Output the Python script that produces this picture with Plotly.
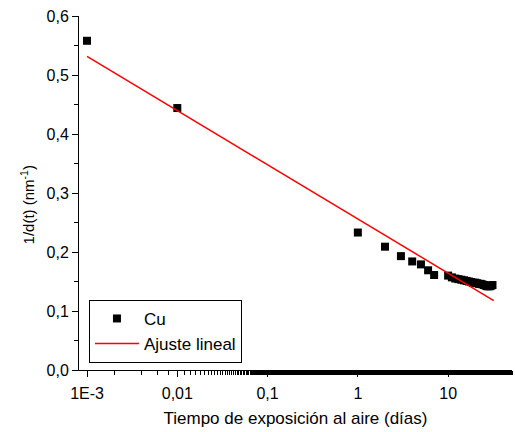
import numpy as np
import plotly.graph_objects as go

# Exposure time (days) and inverse thickness 1/d(t) (nm^-1) for Cu
dias = [0.001, 0.01, 1, 2, 3, 4, 5, 6, 7,
        10, 11, 12, 13, 14, 15, 16, 17, 18, 19, 20,
        21, 22, 23, 24, 25, 26, 27, 28, 29, 30, 31]
inv_d = [0.558, 0.444, 0.233, 0.209, 0.193, 0.184, 0.179, 0.169, 0.161,
         0.160, 0.157, 0.155, 0.154, 0.153, 0.152, 0.151, 0.150, 0.149, 0.148, 0.148,
         0.147, 0.146, 0.146, 0.145, 0.144, 0.143, 0.142, 0.142, 0.142, 0.143, 0.144]

# Linear fit y = a + b*log10(t)
fit_a = 0.256
fit_b = -0.0919
fit_t = [0.001, 32]

x_tickvals = [0.001, 0.01, 0.1, 1, 10]
x_ticktext = ["1E-3", "0,01", "0,1", "1", "10"]
y_tickvals = [0.0, 0.1, 0.2, 0.3, 0.4, 0.5, 0.6]
y_ticktext = ["0,0", "0,1", "0,2", "0,3", "0,4", "0,5", "0,6"]

fit_y = [fit_a + fit_b * np.log10(t) for t in fit_t]

font_family = "Liberation Sans, Arial, sans-serif"

fig = go.Figure()
fig.add_trace(go.Scatter(
    x=dias, y=inv_d, mode="markers", name="Cu",
    marker=dict(symbol="square", size=8, color="black", line=dict(width=0)),
))
fig.add_trace(go.Scatter(
    x=fit_t, y=fit_y, mode="lines", name="Ajuste lineal",
    line=dict(color="red", width=1.5),
))

fig.update_layout(
    width=515, height=432,
    margin=dict(l=79, r=3, t=16, b=62),
    paper_bgcolor="white", plot_bgcolor="white",
    font=dict(family=font_family, size=15, color="black"),
    showlegend=True,
    legend=dict(
        x=0.023, y=0.198, xanchor="left", yanchor="top",
        bordercolor="black", borderwidth=1, bgcolor="white",
        font=dict(family=font_family, size=17, color="black"),
        tracegroupgap=0, itemwidth=44,
    ),
    xaxis=dict(
        type="log", range=[np.log10(0.000815), np.log10(51)],
        tickvals=x_tickvals, ticktext=x_ticktext,
        tickfont=dict(family=font_family, size=16, color="black"),
        ticklabelstandoff=3,
        ticks="outside", ticklen=6, tickwidth=1, tickcolor="black",
        minor=dict(ticks="outside", ticklen=4, tickwidth=1, tickcolor="black", showgrid=False),
        showline=True, linecolor="black", linewidth=1,
        showgrid=False, zeroline=False,
        title=dict(text="Tiempo de exposición al aire (días)", standoff=10,
                   font=dict(family=font_family, size=17, color="black")),
    ),
    yaxis=dict(
        range=[0, 0.6],
        tickvals=y_tickvals, ticktext=y_ticktext,
        tickfont=dict(family=font_family, size=16, color="black"),
        ticks="outside", ticklen=6, tickwidth=1, tickcolor="black",
        minor=dict(dtick=0.05, ticks="outside", ticklen=4, tickwidth=1, tickcolor="black", showgrid=False),
        showline=True, linecolor="black", linewidth=1,
        showgrid=False, zeroline=False,
    ),
    annotations=[dict(
        text="1/d(t) (nm<sup>-1</sup>)", textangle=-90,
        xref="paper", yref="paper", x=-0.12, y=0.465,
        xanchor="center", yanchor="middle", showarrow=False,
        font=dict(family=font_family, size=15, color="black"),
    )],
)

fig.write_html("out.html")
